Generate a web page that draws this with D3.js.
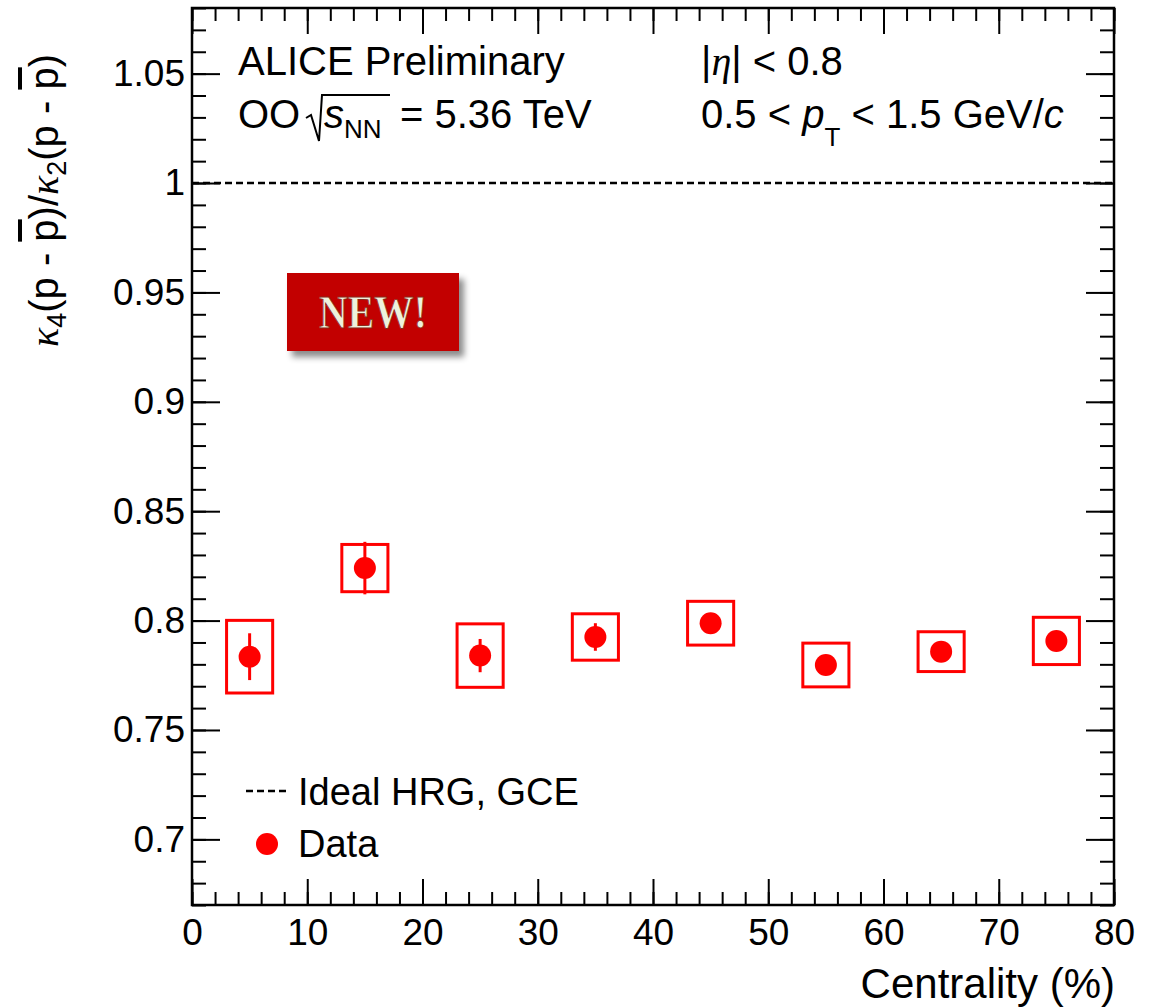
<!DOCTYPE html>
<html>
<head>
<meta charset="utf-8">
<script src="https://cdn.jsdelivr.net/npm/d3@7"></script>
<style>
  body { margin: 0; background: #fff; }
  text { font-family: "Liberation Sans", Arial, sans-serif; }
  .greek { font-family: "Liberation Serif", "Times New Roman", serif; font-style: italic; }
</style>
</head>
<body>
<div id="app"></div>
<script>
// data
const centrality = [5, 15, 25, 35, 45, 55, 65, 75]
const ratio      = [0.7835, 0.824, 0.784, 0.7925, 0.7988, 0.7797, 0.7858, 0.7907]
const statErr    = [0.0107, 0.012, 0.0076, 0.0063, 0.003, 0.002, 0.002, 0.002]
const sysErr     = [0.0166, 0.0108, 0.0145, 0.0106, 0.0100, 0.0100, 0.0091, 0.0108]
const binHalfWidth = 2
const hrgValue = 1

const xMajorTicks = [0, 10, 20, 30, 40, 50, 60, 70, 80]
const yMajorTicks = [0.7, 0.75, 0.8, 0.85, 0.9, 0.95, 1, 1.05]
const yTickLabels = ['0.7', '0.75', '0.8', '0.85', '0.9', '0.95', '1', '1.05']

const dataset = centrality.map((c, i) => ({x: c, y: ratio[i], stat: statErr[i], sys: sysErr[i]}))

const width = 1158, height = 1007
const margin = {left: 192, top: 8, right: 44, bottom: 102}
const bounds = {
  width: width - margin.left - margin.right,
  height: height - margin.top - margin.bottom
}

const root = d3.select('#app').append('svg')
  .attr('width', width)
  .attr('height', height)

const defs = root.append('defs')
defs.append('filter').attr('id', 'shadow')
    .attr('x', '-20%').attr('y', '-20%').attr('width', '150%').attr('height', '160%')
  .append('feDropShadow')
    .attr('dx', 5).attr('dy', 6).attr('stdDeviation', 3)
    .attr('flood-color', '#000').attr('flood-opacity', 0.45)

const svg = root.append('g')
  .attr('transform', `translate(${margin.left}, ${margin.top})`)

// scales
const xScale = d3.scaleLinear().domain([0, 80]).range([0, bounds.width])
const yScale = d3.scaleLinear().domain([0.67, 1.08]).range([bounds.height, 0])

const xMinor = d3.range(0, 81, 2)
const yMinor = d3.range(67, 109).map(d => d / 100)

function styleAxis(g) {
  g.select('.domain').remove()
  g.selectAll('.tick line').attr('stroke', '#000').attr('stroke-width', 2)
  g.selectAll('.tick text').attr('font-size', 37).attr('fill', '#000')
}

// bottom axis
svg.append('g')
  .attr('transform', `translate(0, ${bounds.height})`)
  .call(d3.axisBottom(xScale).tickValues(xMinor).tickSize(-13).tickFormat(''))
  .call(styleAxis)
svg.append('g')
  .attr('transform', `translate(0, ${bounds.height})`)
  .call(d3.axisBottom(xScale).tickValues(xMajorTicks).tickSize(-26).tickPadding(14).tickFormat(d3.format('d')))
  .call(styleAxis)
  .call(g => g.selectAll('.tick text').attr('dy', '0.71em'))

// top axis
svg.append('g')
  .call(d3.axisTop(xScale).tickValues(xMinor).tickSize(-13).tickFormat(''))
  .call(styleAxis)
svg.append('g')
  .call(d3.axisTop(xScale).tickValues(xMajorTicks).tickSize(-26).tickFormat(''))
  .call(styleAxis)

// left axis
svg.append('g')
  .call(d3.axisLeft(yScale).tickValues(yMinor).tickSize(-14).tickFormat(''))
  .call(styleAxis)
svg.append('g')
  .call(d3.axisLeft(yScale).tickValues(yMajorTicks).tickSize(-28).tickPadding(7)
    .tickFormat((d, i) => yTickLabels[i]))
  .call(styleAxis)

// right axis
svg.append('g')
  .attr('transform', `translate(${bounds.width}, 0)`)
  .call(d3.axisRight(yScale).tickValues(yMinor).tickSize(-14).tickFormat(''))
  .call(styleAxis)
svg.append('g')
  .attr('transform', `translate(${bounds.width}, 0)`)
  .call(d3.axisRight(yScale).tickValues(yMajorTicks).tickSize(-28).tickFormat(''))
  .call(styleAxis)

// frame
svg.append('rect')
  .attr('x', 0).attr('y', 0)
  .attr('width', bounds.width).attr('height', bounds.height)
  .attr('fill', 'none').attr('stroke', '#000').attr('stroke-width', 2.5)

// HRG reference line
svg.append('line')
  .attr('x1', xScale(0)).attr('x2', xScale(80))
  .attr('y1', yScale(hrgValue)).attr('y2', yScale(hrgValue))
  .attr('stroke', '#000').attr('stroke-width', 2.6).attr('stroke-dasharray', '7,4')

// data: systematic boxes, stat bars, markers
const red = '#ff0000'
const points = svg.selectAll('.pt').data(dataset).join('g').attr('class', 'pt')

points.append('rect')
  .attr('x', d => xScale(d.x - binHalfWidth))
  .attr('y', d => yScale(d.y + d.sys))
  .attr('width', d => xScale(d.x + binHalfWidth) - xScale(d.x - binHalfWidth))
  .attr('height', d => yScale(d.y - d.sys) - yScale(d.y + d.sys))
  .attr('fill', 'none').attr('stroke', red).attr('stroke-width', 3)

points.append('line')
  .attr('x1', d => xScale(d.x)).attr('x2', d => xScale(d.x))
  .attr('y1', d => yScale(d.y + d.stat)).attr('y2', d => yScale(d.y - d.stat))
  .attr('stroke', red).attr('stroke-width', 3)

points.append('circle')
  .attr('cx', d => xScale(d.x)).attr('cy', d => yScale(d.y))
  .attr('r', 11).attr('fill', red)

// axis titles
root.append('text')
  .attr('x', 1115).attr('y', 998)
  .attr('text-anchor', 'end').attr('font-size', 42)
  .text('Centrality (%)')

const yTitle = root.append('text')
  .attr('transform', 'translate(58, 347) rotate(-90)')
  .attr('font-size', 40)
yTitle.append('tspan').attr('class', 'greek').text('κ')
yTitle.append('tspan').attr('font-size', 27).attr('dy', 8).text('4')
yTitle.append('tspan').attr('dy', -8).text('(p - ')
yTitle.append('tspan').style('text-decoration', 'overline').text('p')
yTitle.append('tspan').text(')/')
yTitle.append('tspan').attr('class', 'greek').text('κ')
yTitle.append('tspan').attr('font-size', 27).attr('dy', 8).text('2')
yTitle.append('tspan').attr('dy', -8).text('(p - ')
yTitle.append('tspan').style('text-decoration', 'overline').text('p')
yTitle.append('tspan').text(')')

// annotations
root.append('text').attr('x', 238).attr('y', 75).attr('font-size', 40).text('ALICE Preliminary')

const oo = root.append('text').attr('x', 238).attr('y', 128).attr('font-size', 40)
oo.append('tspan').text('OO')
oo.append('tspan').attr('x', 324).style('font-style', 'italic').text('s')
oo.append('tspan').attr('font-size', 26).attr('dy', 10).text('NN')
oo.append('tspan').attr('dy', -10).attr('x', 400).text('= 5.36 TeV')
root.append('path')
  .attr('d', 'M306,118 L311,115 L319,141 L322,95 L390,95')
  .attr('fill', 'none').attr('stroke', '#000').attr('stroke-width', 2)

const eta = root.append('text').attr('x', 701).attr('y', 75).attr('font-size', 40)
eta.append('tspan').text('|')
eta.append('tspan').attr('class', 'greek').text('η')
eta.append('tspan').text('| < 0.8')

const pt = root.append('text').attr('x', 701).attr('y', 128).attr('font-size', 40)
pt.append('tspan').text('0.5 < ')
pt.append('tspan').style('font-style', 'italic').text('p')
pt.append('tspan').attr('font-size', 26).attr('dy', 18).text('T')
pt.append('tspan').attr('dy', -18).text(' < 1.5 GeV/')
pt.append('tspan').style('font-style', 'italic').text('c')

// NEW! badge
const badge = root.append('g')
badge.append('rect')
  .attr('x', 287).attr('y', 273).attr('width', 172).attr('height', 78)
  .attr('fill', '#c20000').attr('filter', 'url(#shadow)')
badge.append('text')
  .attr('x', 373).attr('y', 328)
  .attr('text-anchor', 'middle')
  .attr('font-size', 46)
  .attr('textLength', 108).attr('lengthAdjust', 'spacingAndGlyphs')
  .style('font-family', '"Liberation Serif", "DejaVu Serif", serif')
  .style('font-weight', 'bold')
  .style('fill', '#eef2dc').style('stroke', '#8a2a1a').style('stroke-width', 0.8)
  .text('NEW!')

// legend
const legend = root.append('g')
legend.append('line')
  .attr('x1', 246).attr('x2', 290).attr('y1', 791).attr('y2', 791)
  .attr('stroke', '#000').attr('stroke-width', 2.6).attr('stroke-dasharray', '7,4')
legend.append('text').attr('x', 298).attr('y', 805).attr('font-size', 38).text('Ideal HRG, GCE')
legend.append('circle').attr('cx', 267).attr('cy', 844).attr('r', 11).attr('fill', red)
legend.append('text').attr('x', 298).attr('y', 857).attr('font-size', 38).text('Data')
</script>
</body>
</html>
